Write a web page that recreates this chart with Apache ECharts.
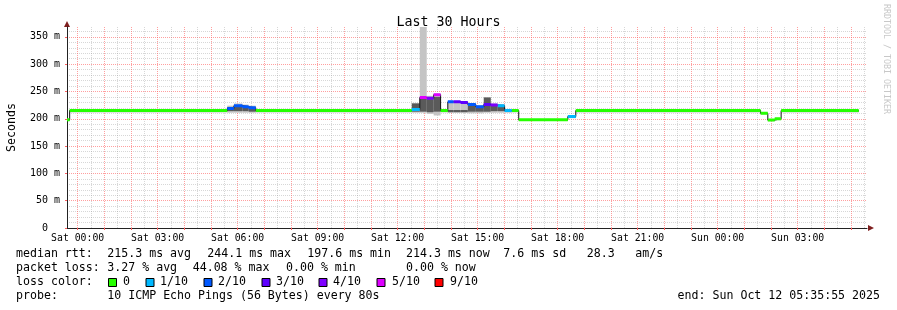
<!DOCTYPE html>
<html><head><meta charset="utf-8">
<script src="https://cdn.jsdelivr.net/npm/echarts@6/dist/echarts.min.js"></script>
<style>html,body{margin:0;padding:0;background:#fff}#c{width:897px;height:310px}</style>
</head><body><div id="c"></div>
<script>
// ---- data (hours from Sat 00:00) ----
const segStart  = [-0.40,-0.30,5.61,5.86,6.18,6.41,6.68,12.53,12.83,13.09,13.35,13.61,13.88,14.10,14.36,14.63,14.93,15.23,15.49,15.75,16.01,16.28,16.54,18.38,18.68,25.61,25.88,26.14,26.38];
const dataEnd   = 29.29;
const medianRtt = [198,215,219,224,222,220,215,217,239,237.5,244,215,231,231,230,226,222,226,225,224,215,215,198,204,215,210,197.6,200,215];
const lossLevel = [0,0,2,2,2,2,0,1,5,4,5,0,2,3,3,2,2,3,4,1,1,0,0,1,0,0,0,0,0];
const smokeMin  = [196,211.5,211,211,211,211,211.5,211,211,209,206,211.5,211,211,211,210,210,211,211,211,211,211.5,196,201,211.5,208,195.5,197.5,211.5];
const smokeMax  = [200,216,224,228,226,224,216,229,400,242,246,216,232,232,231,228,225,239,228,227,218,216,199.5,206,216,211.5,199,201.5,216];
const coreMin   = [197,213,214,214,214,213,213,213,213,212,213,213,212,212,212,213,213,213,214,214,213,213,197,202,213,209,196.5,198.5,213];
const coreMax   = [199,215,221,224,222,220,215,228,238,236,240,215,216,216,216,224,221,239,224,223,215,215,198,204,215,210,197.6,200,215];

const lossLevels = [0,1,2,3,4,5,9];
const lossLabels = ['0','1/10','2/10','3/10','4/10','5/10','9/10'];
const lossColors = ['#26ff00','#00b8ff','#0059ff','#5e00ff','#7e00ff','#dd00ff','#ff0000'];

const xTickHours  = [0,3,6,9,12,15,18,21,24,27];
const xTickLabels = ['Sat 00:00','Sat 03:00','Sat 06:00','Sat 09:00','Sat 12:00','Sat 15:00','Sat 18:00','Sat 21:00','Sun 00:00','Sun 03:00'];
const yTickValues = [0,50,100,150,200,250,300,350];
const yTickLabels = ['0  ','50 m','100 m','150 m','200 m','250 m','300 m','350 m'];

const statsRtt  = ['median rtt:','215.3 ms avg','244.1 ms max','197.6 ms min','214.3 ms now','7.6 ms sd','28.3','am/s'];
const statsLoss = ['packet loss:','3.27 % avg','44.08 % max','0.00 % min','0.00 % now'];
const probeText = ['probe:','10 ICMP Echo Pings (56 Bytes) every 80s','end: Sun Oct 12 05:35:55 2025'];

// ---- build ----
const X_MIN = -0.4, X_MAX = 29.6, Y_MAX = 368;
const segEnd = segStart.map((s,i)=> i+1<segStart.length ? segStart[i+1] : dataEnd);
function stepPts(arr){ const d = segStart.map((s,i)=>[s,arr[i]]); d.push([dataEnd,arr[arr.length-1]]); return d; }

const hourTicks=[], halfTicks=[];
for(let h=0;h<=29;h++){ hourTicks.push(h); halfTicks.push(h+0.5); }
const minorY=[]; for(let v=10;v<=360;v+=10){ if(v%50) minorY.push(v); }

const font = 'DejaVu Sans Mono';
const series = [];
function bandSeries(lo, hi, fill){
  return {type:'custom', xAxisIndex:1, yAxisIndex:1, silent:true,
    data: segStart.map((s,i)=>[s, segEnd[i], lo[i], hi[i]]),
    renderItem:(params, api)=>{
      const p1 = api.coord([api.value(0), api.value(3)]);
      const p2 = api.coord([api.value(1), api.value(2)]);
      const cs = params.coordSys;
      const r = echarts.graphic.clipRectByRect(
        {x:p1[0], y:p1[1], width:p2[0]-p1[0], height:p2[1]-p1[1]},
        {x:cs.x, y:cs.y, width:cs.width, height:cs.height});
      return r && {type:'rect', shape:r, style:{fill}};
    }};
}
series.push(bandSeries(smokeMin, smokeMax, '#c4c4c4'));
series.push(bandSeries(coreMin, coreMax, '#5a5a5a'));
series.push({type:'line', data: stepPts(medianRtt), step:'end', symbol:'none', xAxisIndex:1, yAxisIndex:1,
  lineStyle:{color:'#111', width:1}, silent:true});
lossLevels.forEach((L,k)=>{
  const d=[];
  segStart.forEach((s,i)=>{
    if(lossLevel[i]!==L) return;
    d.push([s,medianRtt[i]],[segEnd[i],medianRtt[i]],[segEnd[i],null]);
  });
  if(d.length) series.push({type:'line', data:d, symbol:'none', connectNulls:false, xAxisIndex:1, yAxisIndex:1,
    lineStyle:{color:lossColors[k], width:3, cap:'butt'}, silent:true});
});

const graphic = [];
function txt(x,y,t,align){ graphic.push({type:'text', x, y, silent:true,
  style:{text:t, fill:'#000', font:'11.6px "'+font+'"', textAlign:align||'left', textVerticalAlign:'middle'}}); }
const rttX = [16,107.3,207.3,307.3,406,503.3,586.7,635.3];
statsRtt.forEach((t,i)=>txt(rttX[i],254.3,t));
const lossX = [16,107.3,192.7,286,406];
statsLoss.forEach((t,i)=>txt(lossX[i],268.3,t));
txt(16,282.3,'loss color:');
const sqX=[108.5,146,204,262,319,377,435], lbX=[123,160,218,276,333,392,450];
lossLabels.forEach((t,i)=>{
  graphic.push({type:'rect', silent:true, shape:{x:sqX[i],y:278.5,width:8,height:8}, style:{fill:lossColors[i], stroke:'#000', lineWidth:1}});
  txt(lbX[i],282.3,t);
});
txt(16,296.3,probeText[0]); txt(107.3,296.3,probeText[1]); txt(880,296.3,probeText[2],'right');
graphic.push({type:'polygon', silent:true, shape:{points:[[67,21],[64,27],[70,27]]}, style:{fill:'#7f1f1f'}});
graphic.push({type:'polygon', silent:true, shape:{points:[[874,228],[868,225],[868,231]]}, style:{fill:'#7f1f1f'}});
graphic.push({type:'text', x:886, y:4, rotation:-Math.PI/2, silent:true,
  style:{text:'RRDTOOL / TOBI OETIKER', fill:'#c8c8c8', font:'8.3px "'+font+'"', textAlign:'left', textVerticalAlign:'middle'}});

const gridRed = {show:true, lineStyle:{color:'rgba(255,95,95,0.6)', width:1, type:[1,1]}};
const gridGrey = {show:true, lineStyle:{color:'rgba(140,140,140,0.35)', width:1, type:[1,1]}};

const option = {
  animation:false, backgroundColor:'#ffffff',
  title:{text:'Last 30 Hours', left:'center', top:11, textStyle:{fontFamily:font, fontSize:13.3, fontWeight:'normal', color:'#000'}},
  grid:{left:67, right:30, top:27, bottom:82, containLabel:false, outerBoundsMode:'none'},
  xAxis:[
    {type:'value', position:'bottom', min:X_MIN, max:X_MAX, axisLine:{show:false}, axisLabel:{show:false},
     axisTick:{show:false, customValues:halfTicks}, splitLine:gridGrey},
    {type:'value', position:'bottom', min:X_MIN, max:X_MAX,
     axisLine:{show:true, onZero:false, lineStyle:{color:'#222', width:1}},
     axisTick:{show:true, customValues:hourTicks, length:2, lineStyle:{color:'#ff5f5f'}},
     axisLabel:{customValues:xTickHours, margin:5, fontFamily:font, fontSize:9.8, color:'#000',
       formatter:v=>{const i=xTickHours.indexOf(Math.round(v)); return i>=0?xTickLabels[i]:'';}},
     splitLine:gridRed}
  ],
  yAxis:[
    {type:'value', position:'left', min:0, max:Y_MAX, axisLine:{show:false}, axisLabel:{show:false},
     axisTick:{show:false, customValues:minorY}, splitLine:gridGrey},
    {type:'value', position:'left', min:0, max:Y_MAX,
     name:'Seconds', nameLocation:'middle', nameRotate:90, nameGap:49,
     nameTextStyle:{fontFamily:font, fontSize:11.6, color:'#000'},
     axisLine:{show:true, onZero:false, lineStyle:{color:'#222', width:1}},
     axisTick:{show:true, customValues:yTickValues, length:2, lineStyle:{color:'#ff5f5f'}},
     axisLabel:{customValues:yTickValues, margin:7, fontFamily:font, fontSize:10, color:'#000',
       formatter:v=>{const i=yTickValues.indexOf(Math.round(v)); return i>=0?yTickLabels[i]:'';}},
     splitLine:gridRed}
  ],
  series, graphic
};
echarts.init(document.getElementById('c')).setOption(option);
</script></body></html>
